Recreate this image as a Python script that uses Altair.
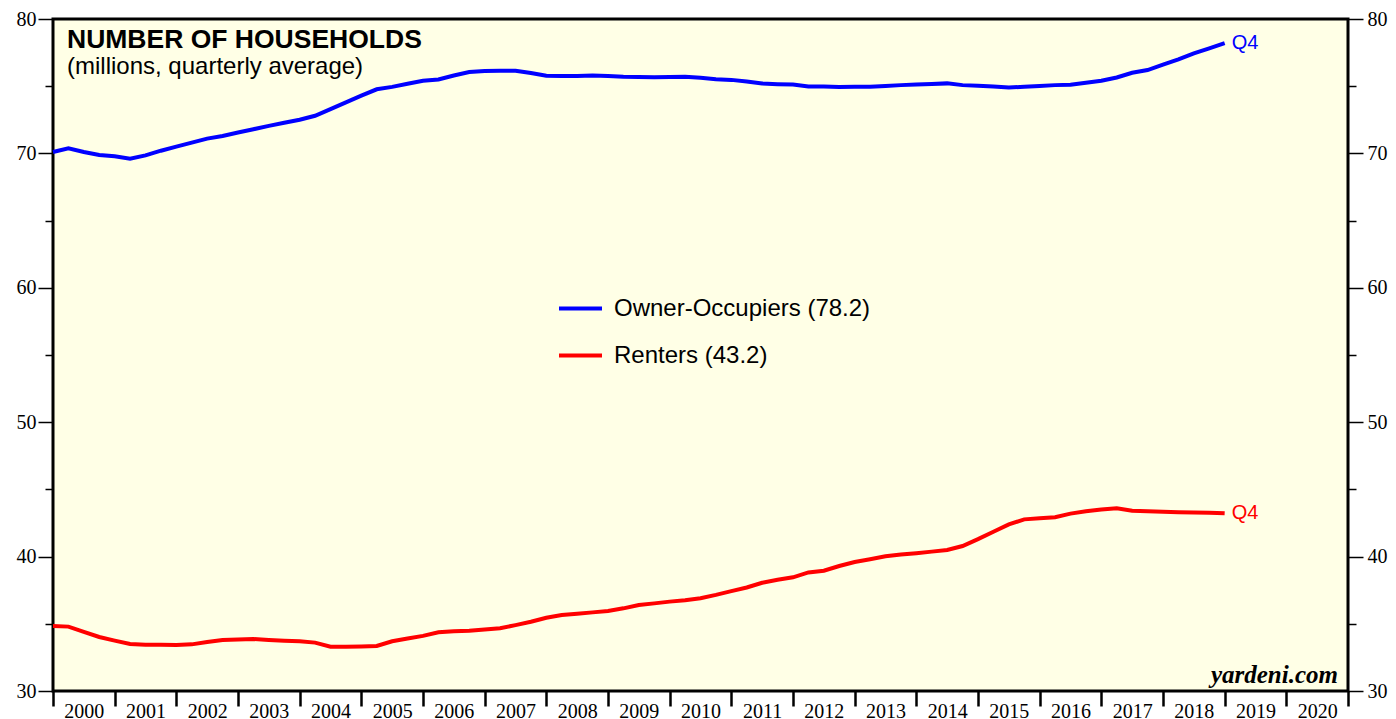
import altair as alt
import pandas as pd

# Quarterly periods 1999Q4 .. 2018Q4 (plotted at quarter end)
quarters = [f"{y}Q{q}" for y in range(1999, 2019) for q in range(1, 5)][3:]

owners = [
    70.10, 70.38, 70.10, 69.88, 69.78, 69.60, 69.85, 70.20, 70.50, 70.80,
    71.10, 71.30, 71.55, 71.80, 72.05, 72.28, 72.50, 72.80, 73.30, 73.80,
    74.30, 74.77, 74.95, 75.18, 75.40, 75.50, 75.80, 76.05, 76.13, 76.15,
    76.15, 75.98, 75.78, 75.75, 75.76, 75.80, 75.75, 75.70, 75.68, 75.66,
    75.68, 75.71, 75.62, 75.52, 75.47, 75.35, 75.20, 75.15, 75.12, 74.98,
    74.98, 74.94, 74.95, 74.96, 75.02, 75.08, 75.12, 75.17, 75.21, 75.08,
    75.03, 74.98, 74.90, 74.96, 75.02, 75.08, 75.10, 75.25, 75.40, 75.65,
    76.00, 76.20, 76.60, 77.00, 77.45, 77.82, 78.20,
]

renters = [
    34.84, 34.79, 34.40, 34.02, 33.75, 33.50, 33.45, 33.44, 33.42, 33.47,
    33.65, 33.80, 33.84, 33.87, 33.80, 33.74, 33.70, 33.60, 33.30, 33.30,
    33.32, 33.35, 33.70, 33.90, 34.10, 34.37, 34.44, 34.48, 34.58, 34.67,
    34.90, 35.15, 35.45, 35.65, 35.75, 35.85, 35.96, 36.15, 36.40, 36.52,
    36.65, 36.75, 36.90, 37.15, 37.43, 37.70, 38.05, 38.28, 38.46, 38.82,
    38.95, 39.30, 39.60, 39.80, 40.02, 40.15, 40.25, 40.37, 40.49, 40.79,
    41.30, 41.85, 42.40, 42.77, 42.85, 42.93, 43.20, 43.38, 43.50, 43.60,
    43.42, 43.37, 43.33, 43.30, 43.28, 43.27, 43.22,
]

series_names = ["Owner-Occupiers (78.2)", "Renters (43.2)"]
series_colors = ["#0000FF", "#FF0000"]
year_ticks = list(range(2000, 2022))
y_ticks = list(range(30, 81, 5))


def qtime(label):
    y, q = label.split("Q")
    return int(y) + int(q) / 4.0


rows = []
for name, col, vals in zip(series_names, series_colors, [owners, renters]):
    for lab, v in zip(quarters, vals):
        rows.append({"t": qtime(lab), "value": v, "series": name, "col": col})
df = pd.DataFrame(rows)
last = df.groupby("series", sort=False).tail(1).assign(label="Q4")

xscale = alt.Scale(domain=[2000, 2021], nice=False, zero=False)
yscale = alt.Scale(domain=[30, 80], nice=False, zero=False)

x_axis = alt.Axis(
    values=year_ticks, title=None, grid=False, domain=False,
    tickSize=15, tickWidth=2.5, tickColor="black",
    labelOffset=30.8, labelExpr="datum.value < 2021 ? datum.value : ''",
    labelFont="Liberation Serif", labelFontSize=20, labelColor="black",
    labelPadding=-5, labelBaseline="top", labelFlush=False, labelOverlap=False,
    labelBound=False,
)


def y_axis(orient, pad):
    return alt.Axis(
        orient=orient, values=y_ticks, title=None, grid=False, domain=False,
        tickSize={"condition": {"test": "datum.value % 10 === 0", "value": 15}, "value": 8},
        tickWidth=1.5, tickColor="black",
        labelExpr="datum.value % 10 === 0 ? datum.value : ''",
        labelFont="Liberation Serif", labelFontSize=20, labelColor="black",
        labelPadding=pad, labelFlush=False, labelOverlap=False, labelBound=False,
    )


lines = alt.Chart(df).mark_line(strokeWidth=4).encode(
    x=alt.X("t:Q", scale=xscale, axis=x_axis),
    y=alt.Y("value:Q", scale=yscale, axis=y_axis("left", 2)),
    color=alt.Color(
        "series:N",
        scale=alt.Scale(domain=series_names, range=series_colors),
        legend=alt.Legend(
            title=None, orient="none", legendX=504, legendY=266,
            symbolType="stroke", symbolSize=1849, symbolStrokeWidth=4,
            labelFont="Liberation Sans", labelFontSize=24, labelColor="black",
            labelOffset=10, rowPadding=11, padding=0, labelLimit=1000,
        ),
    ),
)

q4 = alt.Chart(last).mark_text(
    align="left", baseline="middle", dx=7, font="Liberation Sans", fontSize=20
).encode(
    x=alt.X("t:Q", scale=xscale),
    y=alt.Y("value:Q", scale=yscale, axis=y_axis("right", 4)),
    text="label:N",
    color=alt.Color("col:N", scale=None),
)

title = alt.Chart(pd.DataFrame({"s": ["NUMBER OF HOUSEHOLDS"]})).mark_text(
    align="left", baseline="alphabetic", font="Liberation Sans", fontSize=26.5,
    fontWeight="bold", color="black"
).encode(x=alt.value(14), y=alt.value(29), text="s:N")

subtitle = alt.Chart(pd.DataFrame({"s": ["(millions, quarterly average)"]})).mark_text(
    align="left", baseline="alphabetic", font="Liberation Sans", fontSize=24,
    color="black"
).encode(x=alt.value(14), y=alt.value(55), text="s:N")

source = alt.Chart(pd.DataFrame({"s": ["yardeni.com"]})).mark_text(
    align="right", baseline="alphabetic", font="Liberation Serif", fontSize=25,
    fontWeight="bold", fontStyle="italic", color="black"
).encode(x=alt.value(1285), y=alt.value(664), text="s:N")

chart = (
    alt.layer(lines, q4, title, subtitle, source)
    .resolve_scale(y="independent")
    .properties(
        width=1295, height=672,
        padding={"left": 45, "top": 11, "right": 40, "bottom": 28},
        autosize=alt.AutoSizeParams(type="none"),
    )
    .configure(background="white")
    .configure_view(fill="#FFFFE6", stroke="black", strokeWidth=3)
)

chart.save("out.html", embed_options={"renderer": "svg", "actions": False})
